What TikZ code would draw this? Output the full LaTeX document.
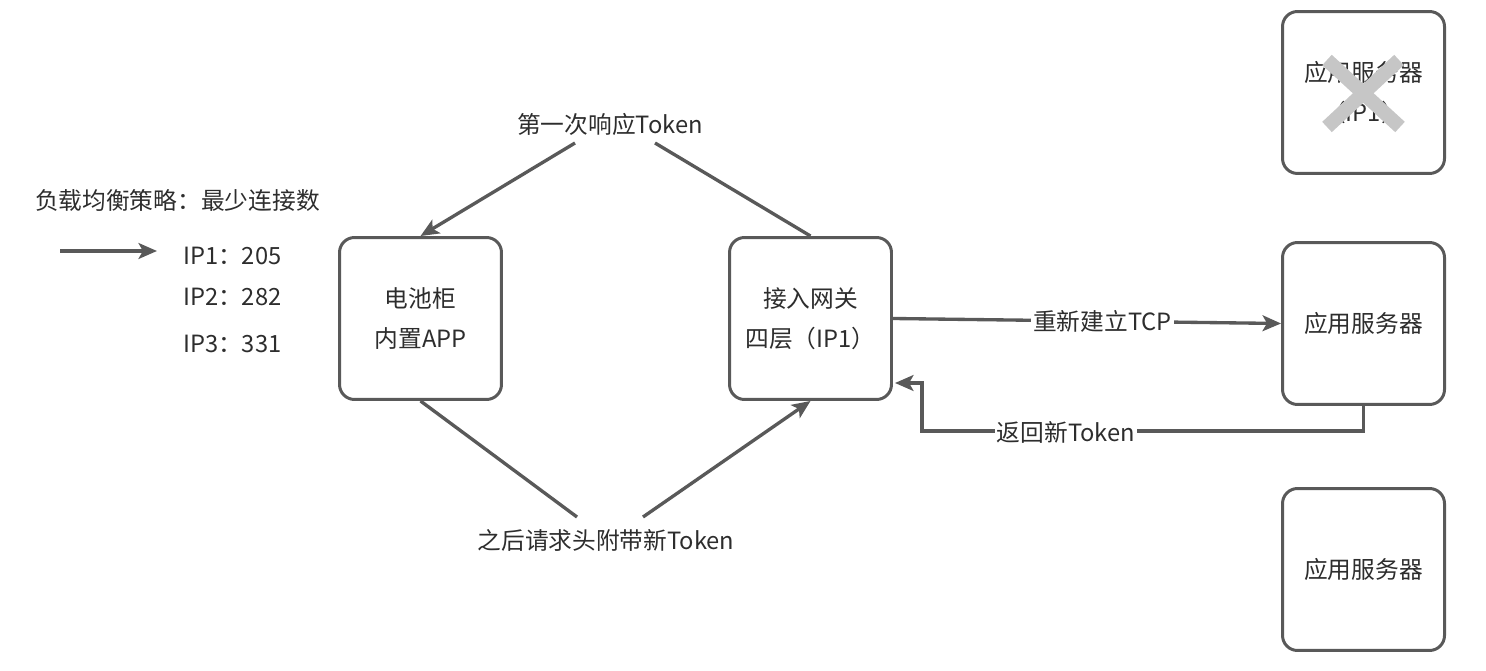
\documentclass[tikz,border=0pt]{standalone}
\usepackage{fontspec}
\setmainfont{Noto Sans CJK SC}
\usepackage{tikz}
\usetikzlibrary{arrows.meta}
\definecolor{slate}{RGB}{89, 89, 89}
\definecolor{ink}{RGB}{45, 45, 45}
\definecolor{ash}{RGB}{198, 198, 198}
\tikzset{
    box/.style={draw, rectangle, rounded corners=0.3cm, fill=white, draw=slate, line width=1.7pt, text=ink, minimum width=3.24cm, minimum height=3.24cm, align=center},
    lbl/.style={text=ink, inner sep=1pt},
    conn/.style={-, slate, line width=1.9pt},
    arr/.style={conn, -{Stealth[length=10.5pt, width=9pt, inset=2.5pt]}},
}
\begin{document}
\begin{tikzpicture}[
        x=0.02cm, y=-0.02cm,
        font=\fontsize{13.5}{23}\selectfont,
        ]
        \useasboundingbox (0,0) rectangle (1486,671);

        \node [box] (app) at (420.5,318.5) {电池柜\\内置APP};
        \node [box] (gw) at (810.5,318.5) {接入网关\\四层（IP1）};

        \node [box] (srvA) at (1363.5,92.5) {应用服务器\\（IP1）};
        \node [box] (srvB) at (1363.5,323.5) {应用服务器};
        \node [box] (srvC) at (1363.5,569.5) {应用服务器};

        \draw [ash, line width=8pt] (1327,60) -- (1400,127);
        \draw [ash, line width=8pt] (1399,60) -- (1327,127);

        \node [lbl, anchor=west] (txt1) at (33,200) {负载均衡策略：最少连接数};
        \node [lbl, anchor=west] (ip1) at (181,256) {IP1：205};
        \node [lbl, anchor=west] (ip2) at (181,297) {IP2：282};
        \node [lbl, anchor=west] (ip3) at (181,344) {IP3：331};
        \coordinate (ptr0) at (60,251);
        \coordinate (ptr1) at (157,251);
        \draw [arr] (ptr0) -- (ptr1);

        \node [lbl] (txt2) at (610,124) {第一次响应Token};
        \node [lbl] (txt3) at (606,540) {之后请求头附带新Token};

        \coordinate (up1) at (575,143);
        \coordinate (up2) at (655,143);
        \coordinate (dn1) at (577,517);
        \coordinate (dn2) at (643,517);

        \draw [conn] (gw.north) -- (up2);
        \draw [arr] (up1) -- (app.north);
        \draw [conn] (app.south) -- (dn1);
        \draw [arr] (dn2) -- (gw.south);

        \draw [arr] (gw.east) -- (srvB.west)
            node [lbl, pos=0.54, fill=white] (txt4) {重新建立TCP};

        \coordinate (ret1) at (922,431);
        \coordinate (ret2) at (895,383);
        \draw [arr] (srvB.south) |- (ret1) |- (ret2);
        \node [lbl, fill=white] (txt5) at (1066,432) {返回新Token};
    \end{tikzpicture}
\end{document}
